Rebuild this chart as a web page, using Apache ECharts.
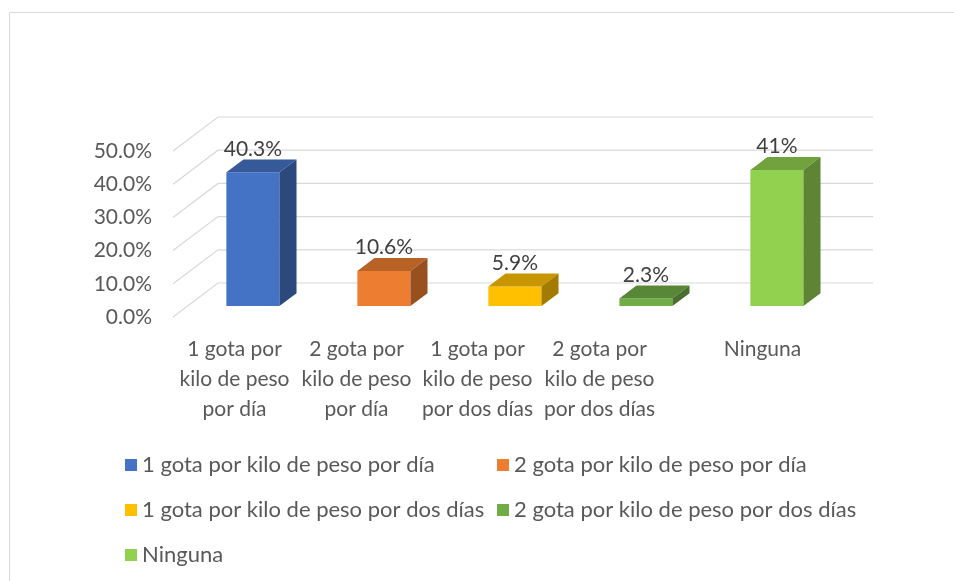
<!DOCTYPE html>
<html>
<head>
<meta charset="utf-8">
<style>
  html, body { margin: 0; padding: 0; background: #fff; }
  #chart { width: 954px; height: 581px; }
</style>
<script src="https://cdn.jsdelivr.net/npm/echarts@6/dist/echarts.min.js"></script>
</head>
<body>
<div id="chart"></div>
<script>
// datos
const categories = [
  '1 gota por kilo de peso por día',
  '2 gota por kilo de peso por día',
  '1 gota por kilo de peso por dos días',
  '2 gota por kilo de peso por dos días',
  'Ninguna'
]
const tickLabels = [
  '1 gota por\nkilo de peso\npor día',
  '2 gota por\nkilo de peso\npor día',
  '1 gota por\nkilo de peso\npor dos días',
  '2 gota por\nkilo de peso\npor dos días',
  'Ninguna'
]
const values = [40.3, 10.6, 5.9, 2.3, 41]
const yTicks = [0, 10, 20, 30, 40, 50]

const colors = ['#4472C4', '#ED7D31', '#FFC000', '#70AD47', '#92D050']
const labelPadRight = [8, 26, 46, 64, 0] // excel corre las etiquetas a la izquierda
const FONT = 'Lato, "Liberation Sans", sans-serif'
const DX = 45 // profundidad del piso
const DY = 34
const FRONT = 0.32
const BACK = 0.70
const BAR_W = 0.405

function shade(hex, k) {
  const n = parseInt(hex.slice(1), 16)
  const r = Math.round(((n >> 16) & 255) * k)
  const g = Math.round(((n >> 8) & 255) * k)
  const b = Math.round((n & 255) * k)
  return 'rgb(' + r + ',' + g + ',' + b + ')'
}

function renderGrid(params, api) {
  const cs = params.coordSys
  const y = api.coord([0, api.value(1)])[1]
  return {
    type: 'polyline',
    silent: true,
    shape: { points: [[cs.x, y], [cs.x + DX, y - DY], [cs.x + cs.width + DX, y - DY]] },
    style: { stroke: '#d9d9d9', fill: null, lineWidth: 1.2 }
  }
}

function renderBar(params, api) {
  const i = api.value(0)
  const v = api.value(1)
  const base = api.coord([i, 0])
  const top = api.coord([i, v])
  const bw = api.size([1, 0])[0] * BAR_W
  const ox = DX * FRONT
  const oy = DY * FRONT
  const dx = DX * (BACK - FRONT)
  const dy = DY * (BACK - FRONT)
  const x0 = base[0] - bw / 2 + ox
  const x1 = x0 + bw
  const yb = base[1] - oy
  const yt = top[1] - oy
  const c = colors[i]
  return {
    type: 'group',
    children: [
      { type: 'rect', shape: { x: x0, y: yt, width: bw, height: yb - yt }, style: { fill: c } },
      { type: 'polygon', shape: { points: [[x0, yt], [x1, yt], [x1 + dx, yt - dy], [x0 + dx, yt - dy]] }, style: { fill: shade(c, 0.78) } },
      { type: 'polygon', shape: { points: [[x1, yt], [x1 + dx, yt - dy], [x1 + dx, yb - dy], [x1, yb]] }, style: { fill: shade(c, 0.64) } },
      {
        type: 'text',
        x: base[0] + ox,
        y: yt - dy,
        style: { text: v + '%', align: 'center', verticalAlign: 'bottom', font: '21px ' + FONT, fill: '#404040' }
      }
    ]
  }
}

const chart = echarts.init(document.getElementById('chart'))

const series = [{
  type: 'custom',
  renderItem: renderGrid,
  data: yTicks.map(v => [0, v]),
  z: 1,
  silent: true
}]
categories.forEach((name, i) => {
  series.push({
    type: 'custom',
    name: name,
    renderItem: renderBar,
    data: [[i, values[i]]],
    itemStyle: { color: colors[i] },
    z: 3
  })
})

const legendBase = {
  orient: 'vertical',
  top: 454,
  padding: 0,
  itemWidth: 12,
  itemHeight: 12,
  itemGap: 23,
  icon: 'rect',
  textStyle: { color: '#595959', fontSize: 22, fontFamily: FONT, lineHeight: 21 }
}

chart.setOption({
  animation: false,
  graphic: [{
    type: 'rect',
    shape: { x: 9.5, y: 12.5, width: 1200, height: 1000 },
    style: { fill: null, stroke: '#d9d9d9', lineWidth: 1 },
    silent: true
  }],
  grid: { left: 173, right: 126, top: 151, bottom: 264, outerBoundsMode: 'none' },
  legend: [
    Object.assign({}, legendBase, { left: 125, data: [categories[0], categories[2], categories[4]] }),
    Object.assign({}, legendBase, { left: 497, data: [categories[1], categories[3]] })
  ],
  xAxis: {
    type: 'category',
    data: tickLabels.map((t, i) => ({ value: t, textStyle: { padding: [0, labelPadRight[i], 0, 0] } })),
    axisLine: { show: false },
    axisTick: { show: false },
    splitLine: { show: false },
    axisLabel: { interval: 0, margin: 17, lineHeight: 30, fontSize: 21, fontFamily: FONT, color: '#595959' }
  },
  yAxis: {
    type: 'value',
    min: 0,
    max: 50,
    interval: 10,
    axisLine: { show: false },
    axisTick: { show: false },
    splitLine: { show: false },
    axisLabel: {
      margin: 21,
      fontSize: 21,
      fontFamily: FONT,
      color: '#595959',
      formatter: v => v.toFixed(1) + '%'
    }
  },
  series: series
})
</script>
</body>
</html>
